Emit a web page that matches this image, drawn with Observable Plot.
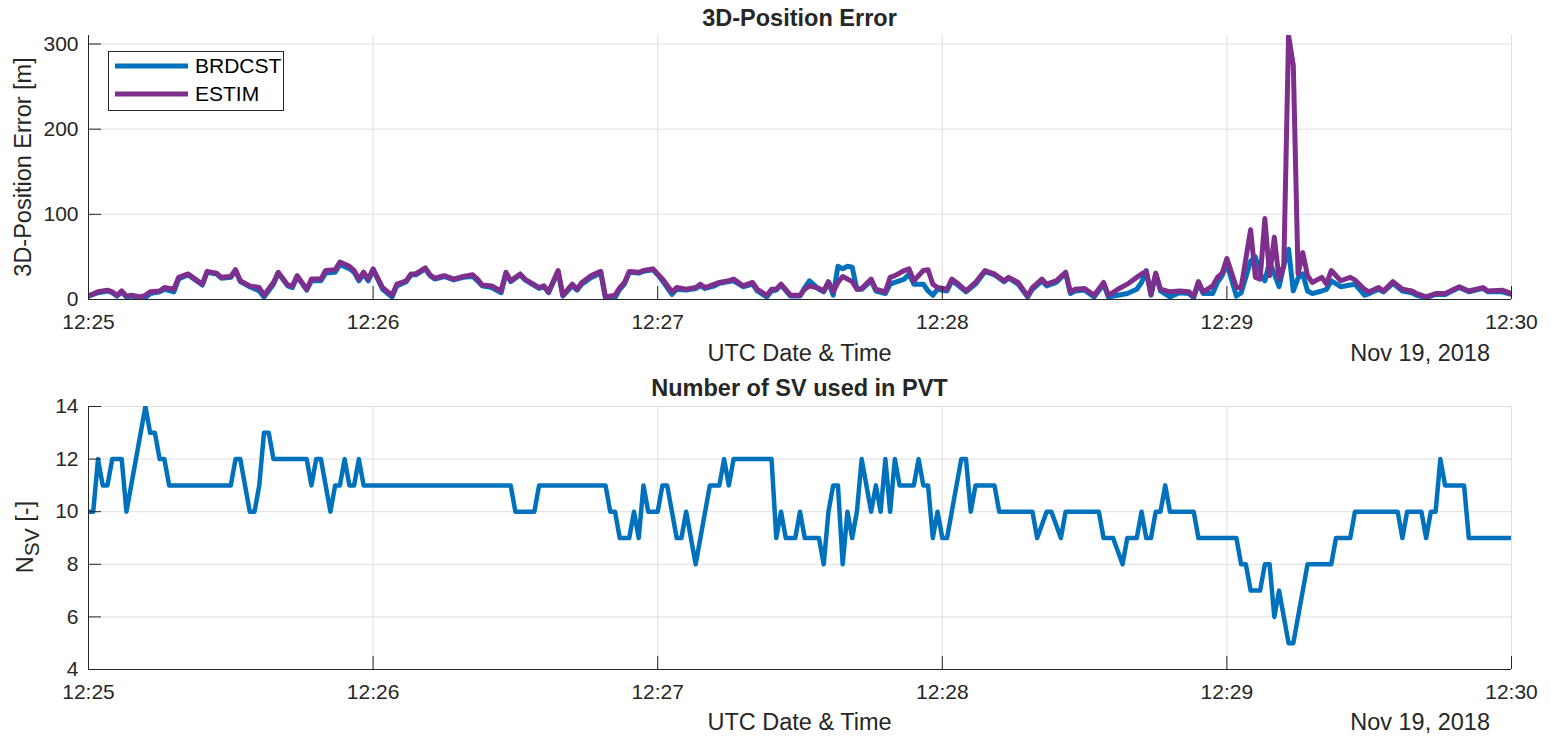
<!DOCTYPE html>
<html><head><meta charset="utf-8">
<script src="https://cdn.jsdelivr.net/npm/d3@7"></script>
<script src="https://cdn.jsdelivr.net/npm/@observablehq/plot@0.6"></script>
<style>
body{margin:0;background:#fff;}
#wrap{width:1551px;}
#wrap svg{display:block;}
</style></head><body><div id="wrap"></div>
<script>
// ---- data: seconds after 12:25:00 UTC, Nov 19 2018 ----
const posSeconds = [0,2,4,5,6,7,8,9,11,12,
13,15,16,18,19,21,22,24,25,27,
28,30,31,32,34,36,37,39,40,42,
43,44,46,47,49,50,52,53,55,56,
57,58,59,60,62,64,65,67,68,69,
71,72,73,75,77,79,81,82,83,85,
87,88,89,91,92,95,96,97,99,100,
102,103,104,106,108,109,111,112,113,114,
116,117,119,120,121,123,124,126,128,129,
130,132,133,135,136,138,140,141,143,144,
145,146,148,150,151,152,154,155,156,157,
158,159,160,161,162,163,165,166,168,169,
170,172,173,174,176,177,178,179,181,182,
183,185,187,189,190,191,193,194,196,198,
199,201,202,204,206,207,208,210,212,214,
215,217,219,221,222,223,224,225,226,228,
230,232,233,234,235,237,238,239,240,242,
243,245,246,247,248,249,250,251,252,253,
254,255,256,257,258,260,261,262,264,266,
267,269,270,272,273,275,277,279,280,282,
284,286,289,291,294,295,298,300];

const estimError = [4,9,11,9,5,10,4,5,3,5,
9,10,14,12,26,30,26,18,33,31,
26,27,35,22,16,14,5,20,32,17,
16,28,12,24,24,34,35,44,39,34,
24,32,24,36,14,5,18,22,30,30,
37,29,25,28,24,27,29,24,17,16,
10,32,22,30,24,14,16,9,34,5,
18,12,20,28,33,3,5,14,20,33,
32,34,36,30,24,9,14,12,14,18,
14,18,20,22,24,16,20,12,5,12,
12,18,5,5,12,16,13,10,21,9,
20,27,24,21,12,13,24,12,9,26,
28,34,36,22,34,35,18,14,12,24,
20,10,20,34,32,30,22,26,20,4,
14,24,18,22,32,9,12,13,5,20,
5,12,18,26,30,33,6,31,12,9,
10,9,4,21,9,16,26,31,48,14,
14,82,26,24,95,28,73,24,40,310,
275,30,55,28,20,26,18,34,22,26,
23,12,9,14,10,21,12,10,7,3,
7,7,15,10,14,10,11,7];

const brdcstError = [4,8,10,8,4,9,3,4,1,2,
7,9,12,9,24,29,25,17,32,30,
25,26,34,21,15,10,3,18,31,16,
14,27,11,22,22,31,32,41,36,32,
22,30,22,35,12,3,16,21,29,29,
36,28,24,27,23,26,27,22,16,14,
8,31,21,29,23,13,15,8,33,4,
16,11,18,26,31,1,2,12,18,32,
31,33,35,29,22,6,12,11,13,16,
13,16,19,21,22,15,18,10,3,10,
11,17,4,4,14,22,12,9,20,5,
39,36,39,38,12,12,22,10,7,18,
20,24,30,18,18,10,5,12,10,22,
18,9,18,33,31,29,21,25,18,3,
12,22,16,20,31,7,10,11,3,18,
3,5,7,12,20,34,5,30,10,3,
8,7,2,19,7,7,20,28,42,4,
8,45,50,30,22,44,30,15,40,59,
10,25,30,10,7,10,12,22,15,17,
18,5,7,12,9,19,10,8,5,2,
6,6,14,9,13,9,9,6];

const svSeconds = [0,1,2,3,4,5,7,8,12,13,
14,15,16,17,30,31,32,34,35,36,
37,38,39,46,47,48,49,51,52,53,
54,55,56,57,58,89,90,94,95,109,
110,111,112,114,115,116,117,118,120,121,
122,124,125,126,128,131,133,134,135,136,
144,145,146,147,149,150,151,154,155,156,
157,158,159,160,161,162,163,165,166,167,
168,169,170,171,174,175,176,177,178,179,
180,181,184,185,186,187,191,192,199,200,
202,203,205,206,213,214,216,218,219,221,
222,223,224,225,226,227,228,233,234,242,
243,244,245,247,248,249,250,251,253,254,
257,262,263,266,267,276,277,278,281,282,
283,284,285,286,290,291,300];

const svCount = [10,10,12,11,11,12,12,10,14,13,
13,12,12,11,11,12,12,10,10,11,
13,13,12,12,11,12,12,10,11,11,
12,11,11,12,11,11,10,10,11,11,
10,10,9,9,10,9,11,10,10,11,
11,9,9,10,8,11,11,12,11,12,
12,9,10,9,9,10,9,9,8,10,
11,11,8,10,9,10,12,10,11,10,
12,10,12,11,11,12,11,11,9,10,
9,9,12,12,10,11,11,10,10,9,
10,10,9,10,10,9,9,8,9,9,
10,9,9,10,10,11,10,10,9,9,
8,8,7,7,8,8,6,7,5,5,
8,8,9,9,10,10,9,10,10,9,
10,10,12,11,11,9,9];

const seriesNames = ["BRDCST", "ESTIM"];
const seriesColors = ["#0072BD", "#7E2F8E"];
const minuteTicks = [0, 60, 120, 180, 240, 300];
const errorTicks = [0, 100, 200, 300];
const svTicks = [4, 6, 8, 10, 12, 14];
const dateLabel = "Nov 19, 2018";

// ---- build tables ----
const t0 = Date.UTC(2018, 10, 19, 12, 25, 0);
const toDate = s => new Date(t0 + s * 1000);
const tickDates = minuteTicks.map(toDate);
const xDomain = [toDate(0), toDate(300)];
const brdcstRows = posSeconds.map((s, i) => ({time: toDate(s), value: brdcstError[i]}));
const estimRows = posSeconds.map((s, i) => ({time: toDate(s), value: estimError[i]}));
const svRows = svSeconds.map((s, i) => ({time: toDate(s), value: svCount[i]}));

const FONT = "'Liberation Sans', Arial, Helvetica, sans-serif";
const AX = "#262626";
const GRID = "#dfdfdf";
const W = 1551, ML = 88, MR = 40;
const plotW = W - ML - MR;

function panel({height, marginTop, marginBottom, yDomain, yTicks, lines, lineWidth}) {
  const plotH = height - marginTop - marginBottom;
  return Plot.plot({
    width: W, height, marginLeft: ML, marginRight: MR, marginTop, marginBottom,
    style: {fontFamily: FONT, fontSize: "21px", color: AX, background: "white"},
    x: {type: "utc", domain: xDomain},
    y: {domain: yDomain},
    marks: [
      Plot.gridX(tickDates, {stroke: GRID, strokeOpacity: 1, strokeWidth: 1}),
      Plot.gridY(yTicks, {stroke: GRID, strokeOpacity: 1, strokeWidth: 1}),
      ...lines.map(([rows, color]) => Plot.line(rows, {x: "time", y: "value", stroke: color, strokeWidth: lineWidth, clip: true, strokeLinejoin: "round"})),
      Plot.ruleX([xDomain[0]], {stroke: AX, strokeWidth: 1}),
      Plot.ruleY([yDomain[0]], {stroke: AX, strokeWidth: 1}),
      Plot.tickX(tickDates, {stroke: AX, strokeWidth: 1, insetTop: plotH - 13}),
      Plot.tickY(yTicks, {stroke: AX, strokeWidth: 1, insetRight: plotW - 13}),
      Plot.axisX(tickDates, {tickSize: 0, tickPadding: 15, tickFormat: d3.utcFormat("%H:%M"), label: null, fontSize: 21}),
      Plot.axisY(yTicks, {tickSize: 0, tickPadding: 10, label: null, fontSize: 21})
    ]
  });
}

function addText(svg, txt, x, y, opts = {}) {
  const t = d3.select(svg).append("text")
    .attr("x", x).attr("y", y)
    .attr("text-anchor", opts.anchor || "middle")
    .attr("dy", "0.35em")
    .attr("fill", opts.fill || AX)
    .attr("font-family", FONT)
    .attr("font-size", opts.size || 23.5)
    .attr("font-weight", opts.bold ? "bold" : "normal")
    .text(txt);
  if (opts.rotate) t.attr("transform", `rotate(${opts.rotate},${x},${y})`);
  return t;
}

const wrap = document.getElementById("wrap");

// ---- top panel ----
const topSvg = panel({height: 370, marginTop: 35, marginBottom: 71, yDomain: [0, 310], yTicks: errorTicks,
  lines: [[brdcstRows, seriesColors[0]], [estimRows, seriesColors[1]]], lineWidth: 5});
wrap.appendChild(topSvg);
const cx = ML + plotW / 2;
addText(topSvg, "3D-Position Error", cx, 18, {bold: true});
addText(topSvg, "UTC Date & Time", cx, 353);
addText(topSvg, dateLabel, 1490, 353, {anchor: "end"});
addText(topSvg, "3D-Position Error [m]", 23, 167, {rotate: -90});
// legend
const lg = d3.select(topSvg).append("g");
lg.append("rect").attr("x", 108.5).attr("y", 51.5).attr("width", 175).attr("height", 59)
  .attr("fill", "white").attr("stroke", AX).attr("stroke-width", 1);
seriesNames.forEach((name, i) => {
  const yy = 66 + i * 28;
  lg.append("line").attr("x1", 115).attr("x2", 188).attr("y1", yy).attr("y2", yy)
    .attr("stroke", seriesColors[i]).attr("stroke-width", 5);
  lg.append("text").attr("x", 195).attr("y", yy).attr("dy", "0.35em")
    .attr("text-anchor", "start")
    .attr("font-family", FONT).attr("font-size", 21).attr("fill", "#000").text(name);
});

// ---- bottom panel ----
const bottomSvg = panel({height: 368, marginTop: 36, marginBottom: 69, yDomain: [4, 14], yTicks: svTicks,
  lines: [[svRows, seriesColors[0]]], lineWidth: 4.5});
wrap.appendChild(bottomSvg);
addText(bottomSvg, "Number of SV used in PVT", cx, 18, {bold: true});
addText(bottomSvg, "UTC Date & Time", cx, 352);
addText(bottomSvg, dateLabel, 1490, 352, {anchor: "end"});
const yl = d3.select(bottomSvg).append("text")
  .attr("transform", "translate(33,167) rotate(-90)")
  .attr("text-anchor", "middle")
  .attr("fill", AX).attr("font-family", FONT).attr("font-size", 23.5);
yl.append("tspan").text("N");
yl.append("tspan").attr("dy", 6).attr("font-size", 21).text("SV");
yl.append("tspan").attr("dy", -6).text(" [-]");
</script></body></html>
